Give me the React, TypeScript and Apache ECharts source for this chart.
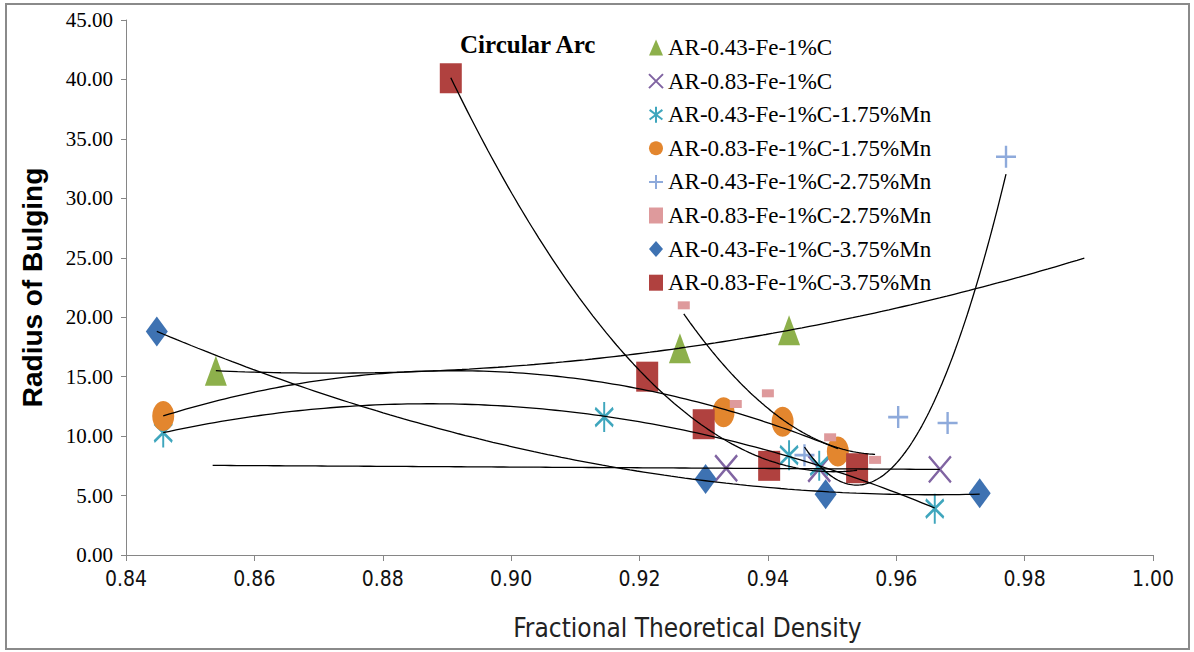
import React, { useEffect, useRef } from "react";
import * as echarts from "echarts";

// ---- Data ----
const seriesNames = [
  "AR-0.43-Fe-1%C",
  "AR-0.83-Fe-1%C",
  "AR-0.43-Fe-1%C-1.75%Mn",
  "AR-0.83-Fe-1%C-1.75%Mn",
  "AR-0.43-Fe-1%C-2.75%Mn",
  "AR-0.83-Fe-1%C-2.75%Mn",
  "AR-0.43-Fe-1%C-3.75%Mn",
  "AR-0.83-Fe-1%C-3.75%Mn",
];

const densityFe043C = [0.854, 0.9263, 0.9433];
const radiusFe043C = [15.5, 17.4, 18.9];
const densityFe083C = [0.9335, 0.948, 0.9668];
const radiusFe083C = [7.3, 7.25, 7.2];
const densityFe043Mn175 = [0.8458, 0.9145, 0.9433, 0.948, 0.966];
const radiusFe043Mn175 = [10.3, 11.6, 8.4, 7.5, 3.9];
const densityFe083Mn175 = [0.8458, 0.9331, 0.9423, 0.9509];
const radiusFe083Mn175 = [11.7, 12.0, 11.2, 8.7];
const densityFe043Mn275 = [0.9457, 0.9603, 0.968, 0.9771];
const radiusFe043Mn275 = [8.4, 11.6, 11.1, 33.5];
const densityFe083Mn275 = [0.9269, 0.935, 0.94, 0.9497, 0.9567];
const radiusFe083Mn275 = [21.0, 12.7, 13.6, 9.9, 8.0];
const densityFe043Mn375 = [0.8448, 0.9303, 0.949, 0.973];
const radiusFe043Mn375 = [18.8, 6.4, 5.1, 5.2];
const densityFe083Mn375 = [0.8906, 0.9212, 0.93, 0.9402, 0.9539];
const radiusFe083Mn375 = [40.1, 15.0, 11.0, 7.5, 7.3];

// trendline settings (polynomial order, forecast forward / backward in x units)
const trendOrder = [2, 1, 2, 2, 2, 2, 2, 2];
const trendForward = [0.046, 0, 0, 0, 0, 0, 0, 0];
const trendBackward = [0, 0.08, 0, 0, 0, 0, 0, 0];

const densities = [
  densityFe043C, densityFe083C, densityFe043Mn175, densityFe083Mn175,
  densityFe043Mn275, densityFe083Mn275, densityFe043Mn375, densityFe083Mn375,
];
const radii = [
  radiusFe043C, radiusFe083C, radiusFe043Mn175, radiusFe083Mn175,
  radiusFe043Mn275, radiusFe083Mn275, radiusFe043Mn375, radiusFe083Mn375,
];

// ---- styles ----
const colors = ["#8DB04B", "#8064A2", "#3FA6BD", "#E3862E", "#8EAADB", "#DE9A9C", "#3E72B2", "#B0413F"];
const pathX = "path://M0 0 L10 10 M10 0 L0 10";
const pathStar = "path://M5 0 L5 10 M1 2 L9 8 M9 2 L1 8";
const pathPlus = "path://M5 0 L5 10 M0 5 L10 5";
const symbols = ["triangle", pathX, pathStar, "circle", pathPlus, "rect", "diamond", "rect"];
const symbolSizes: any[] = [[22, 30], [22, 26], [18, 30], [22, 30], [20, 22], [12, 8], [22, 30], [22, 30]];
const strokeWidths = [0, 2.5, 2.5, 0, 2.5, 0, 0, 0];

function polyfit(xs: number[], ys: number[], deg: number) {
  const mx = xs.reduce((a, b) => a + b, 0) / xs.length;
  const n = deg + 1;
  const A: number[][] = Array.from({ length: n }, () => new Array(n + 1).fill(0));
  xs.forEach((x, i) => {
    const u = x - mx;
    for (let r = 0; r < n; r++) {
      for (let c = 0; c < n; c++) A[r][c] += Math.pow(u, r + c);
      A[r][n] += ys[i] * Math.pow(u, r);
    }
  });
  for (let col = 0; col < n; col++) {
    let piv = col;
    for (let r = col + 1; r < n; r++) if (Math.abs(A[r][col]) > Math.abs(A[piv][col])) piv = r;
    [A[col], A[piv]] = [A[piv], A[col]];
    for (let r = 0; r < n; r++) {
      if (r === col) continue;
      const f = A[r][col] / A[col][col];
      for (let c = col; c <= n; c++) A[r][c] -= f * A[col][c];
    }
  }
  const coef = A.map((row, i) => row[n] / row[i]);
  return (x: number) => coef.reduce((s, c, k) => s + c * Math.pow(x - mx, k), 0);
}

function trendData(i: number) {
  const xs = densities[i];
  const f = polyfit(xs, radii[i], trendOrder[i]);
  const x0 = Math.min(...xs) - trendBackward[i];
  const x1 = Math.max(...xs) + trendForward[i];
  const steps = 120;
  const out: number[][] = [];
  for (let k = 0; k <= steps; k++) {
    const x = x0 + ((x1 - x0) * k) / steps;
    out.push([x, f(x)]);
  }
  return out;
}

export default function App() {
  const ref = useRef<HTMLDivElement>(null);
  useEffect(() => {
    if (!ref.current) return;
    const chart = echarts.init(ref.current, undefined, { renderer: "svg" });
    const scatterSeries = seriesNames.map((name, i) => ({
      type: "scatter",
      name,
      data: densities[i].map((x, j) => [x, radii[i][j]]),
      symbol: symbols[i],
      symbolSize: symbolSizes[i],
      itemStyle: {
        color: colors[i],
        borderColor: colors[i],
        borderWidth: strokeWidths[i],
        opacity: 1,
      },
      z: 2,
    }));
    const trendSeries = seriesNames.map((_, i) => ({
      type: "line",
      data: trendData(i),
      showSymbol: false,
      symbol: "none",
      lineStyle: { color: "#000", width: 1.3 },
      silent: true,
      z: 3,
    }));
    chart.setOption({
      animation: false,
      backgroundColor: "#fff",
      title: {
        text: "Circular Arc",
        left: 455,
        top: 27,
        textStyle: { fontFamily: "Liberation Serif", fontWeight: "bold", fontSize: 25, color: "#000" },
      },
      legend: {
        orient: "vertical",
        left: 643,
        top: 31,
        itemGap: 10.6,
        itemWidth: 14,
        itemHeight: 16,
        data: seriesNames,
        textStyle: { fontFamily: "Liberation Serif", fontSize: 23, color: "#000" },
      },
      grid: { left: 126, right: 41, top: 20, bottom: 97 },
      xAxis: {
        type: "value",
        min: 0.84,
        max: 1.0,
        interval: 0.02,
        axisLine: { lineStyle: { color: "#868686", width: 1 } },
        axisTick: { show: true, length: 6, lineStyle: { color: "#868686" } },
        splitLine: { show: false },
        axisLabel: {
          formatter: (v: number) => v.toFixed(2),
          margin: 13,
          fontFamily: "Liberation Sans Narrow, DejaVu Sans Condensed, Arial Narrow, sans-serif",
          fontSize: 21,
          color: "#111",
        },
        name: "Fractional Theoretical Density",
        nameLocation: "middle",
        nameGap: 60,
        nameTextStyle: {
          fontFamily: "Liberation Sans Narrow, DejaVu Sans Condensed, Arial Narrow, sans-serif",
          fontSize: 26,
          color: "#222",
          padding: [0, 0, 0, 96],
        },
      },
      yAxis: {
        type: "value",
        min: 0,
        max: 45,
        interval: 5,
        axisLine: { show: true, lineStyle: { color: "#868686", width: 1 } },
        axisTick: { show: true, length: 5, lineStyle: { color: "#868686" } },
        splitLine: { show: false },
        axisLabel: {
          formatter: (v: number) => v.toFixed(2),
          margin: 13,
          fontFamily: "Liberation Serif",
          fontSize: 21,
          color: "#000",
        },
        name: "Radius of Bulging",
        nameLocation: "middle",
        nameRotate: 90,
        nameGap: 80,
        nameTextStyle: {
          fontFamily: "Liberation Sans",
          fontWeight: "bold",
          fontSize: 28,
          color: "#000",
        },
      },
      graphic: [
        {
          type: "rect",
          shape: { x: 6, y: 4, width: 1183, height: 645 },
          style: { fill: "none", stroke: "#8a8a8a", lineWidth: 2 },
          silent: true,
          z: 100,
        },
      ],
      series: [...scatterSeries, ...trendSeries],
    });
    return () => chart.dispose();
  }, []);
  return (
    <div
      ref={ref}
      style={{ position: "fixed", left: 0, top: 0, width: 1194, height: 652, background: "#fff" }}
    />
  );
}
